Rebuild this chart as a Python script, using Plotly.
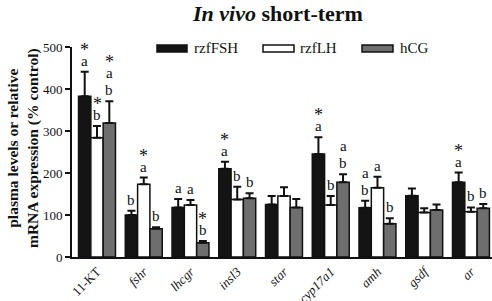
import plotly.graph_objects as go

categories = ["11-KT", "<i>fshr</i>", "<i>lhcgr</i>", "<i>insl3</i>", "<i>star</i>",
              "<i>cyp17a1</i>", "<i>amh</i>", "<i>gsdf</i>", "<i>ar</i>"]
series_names = ["rzfFSH", "rzfLH", "hCG"]

fsh = [383, 100, 118, 210, 125, 245, 117, 146, 178]
fsh_err = [58, 10, 20, 17, 20, 40, 17, 17, 23]
lh = [284, 173, 124, 137, 145, 124, 165, 106, 108]
lh_err = [28, 16, 12, 30, 21, 21, 26, 10, 10]
hcg = [319, 67, 34, 140, 118, 178, 79, 112, 116]
hcg_err = [52, 4, 4, 12, 20, 19, 13, 13, 10]

# significance labels, listed bottom to top
fsh_lab = [["a", "*"], ["b"], ["a"], ["a", "*"], [], ["a", "*"], ["b", "a"], [], ["a", "*"]]
lh_lab = [["b", "*"], ["a", "*"], ["a"], ["b"], [], ["b"], ["a"], [], ["b"]]
hcg_lab = [["b", "a", "*"], ["b"], ["b", "*"], ["b"], [], ["b", "a"], ["b"], [], ["b"]]

y_ticks = [0, 100, 200, 300, 400, 500]

colors = ["#141414", "#ffffff", "#6e6e6e"]
FONT = "Liberation Serif, Times New Roman, DejaVu Serif, serif"
bargap = 0.21
xs = list(range(len(categories)))

fig = go.Figure()
series = [(fsh, fsh_err, fsh_lab), (lh, lh_err, lh_lab), (hcg, hcg_err, hcg_lab)]
for k, (vals, errs, labs) in enumerate(series):
    fig.add_trace(go.Bar(
        x=xs, y=vals, name=series_names[k],
        marker=dict(color=colors[k], line=dict(color="#111111", width=1.5)),
        error_y=dict(type="data", array=errs, symmetric=False, arrayminus=[0]*len(errs),
                     color="#111111", thickness=2, width=4),
        showlegend=False, hoverinfo="skip",
    ))

bw = (1 - bargap) / 3
annotations = []
for k, (vals, errs, labs) in enumerate(series):
    for i, lab in enumerate(labs):
        top = vals[i] + errs[i]
        shift = 1
        for j, t in enumerate(lab):
            if t == "*":
                ys = shift - 8
                size = 18
            else:
                ys = shift
                size = 15
            annotations.append(dict(
                x=xs[i] + (k - 1) * bw, y=top, xref="x", yref="y",
                text=t, showarrow=False, yanchor="bottom", xanchor="center",
                yshift=ys, font=dict(family=FONT, size=size, color="#111111")))
            shift += 17 if t != "*" else 12

L, R, T, B = 72, 492, 47, 257
W, H = R - L, B - T

# legend
leg = [(157, 187, 192), (263, 294, 298), (362, 393, 398)]
shapes = []
for k, (x0, x1, xt) in enumerate(leg):
    shapes.append(dict(type="rect", xref="paper", yref="paper",
                       x0=(x0 - L) / W, x1=(x1 - L) / W,
                       y0=(B - 52) / H, y1=(B - 45) / H,
                       fillcolor=colors[k], line=dict(color="#111111", width=1.5)))
    annotations.append(dict(x=(xt - L) / W, y=(B - 48.5) / H, xref="paper", yref="paper",
                            text=series_names[k], showarrow=False, xanchor="left",
                            yanchor="middle",
                            font=dict(family=FONT, size=15, color="#111111")))

# y-axis title
annotations.append(dict(x=(23 - L) / W, y=(B - 148) / H, xref="paper", yref="paper",
                        text="<b>plasma levels or relative<br>mRNA expression (% control)</b>",
                        textangle=-90, showarrow=False, xanchor="center", yanchor="middle",
                        font=dict(family=FONT, size=15.5, color="#111111")))

fig.update_layout(
    width=492, height=301,
    margin=dict(l=L, r=492 - R, t=T, b=301 - B, autoexpand=False),
    paper_bgcolor="white", plot_bgcolor="white",
    font=dict(family=FONT, color="#111111"),
    barmode="group", bargap=bargap, bargroupgap=0,
    title=dict(text="<b><i>In vivo</i> short-term</b>", x=(278) / 492, xanchor="center",
               y=1 - 13 / 301, yanchor="middle",
               font=dict(family=FONT, size=22, color="#111111")),
    annotations=annotations, shapes=shapes,
    showlegend=False,
)
fig.update_xaxes(range=[-0.535, 8.45], tickvals=xs, ticktext=categories, tickangle=-45,
                 showline=True, linecolor="#111111", linewidth=2, ticks="",
                 showgrid=False, zeroline=False, automargin=False,
                 tickfont=dict(family=FONT, size=13, color="#111111"))
fig.update_yaxes(range=[0, 500], tickvals=y_ticks, showline=True, linecolor="#111111",
                 linewidth=2, ticks="outside", ticklen=5, tickwidth=2, tickcolor="#111111",
                 showgrid=False, zeroline=False, automargin=False,
                 tickfont=dict(family=FONT, size=13, color="#111111"))

fig.write_html("out.html", config={"displayModeBar": False},
               post_script="document.body.style.margin='0';")
